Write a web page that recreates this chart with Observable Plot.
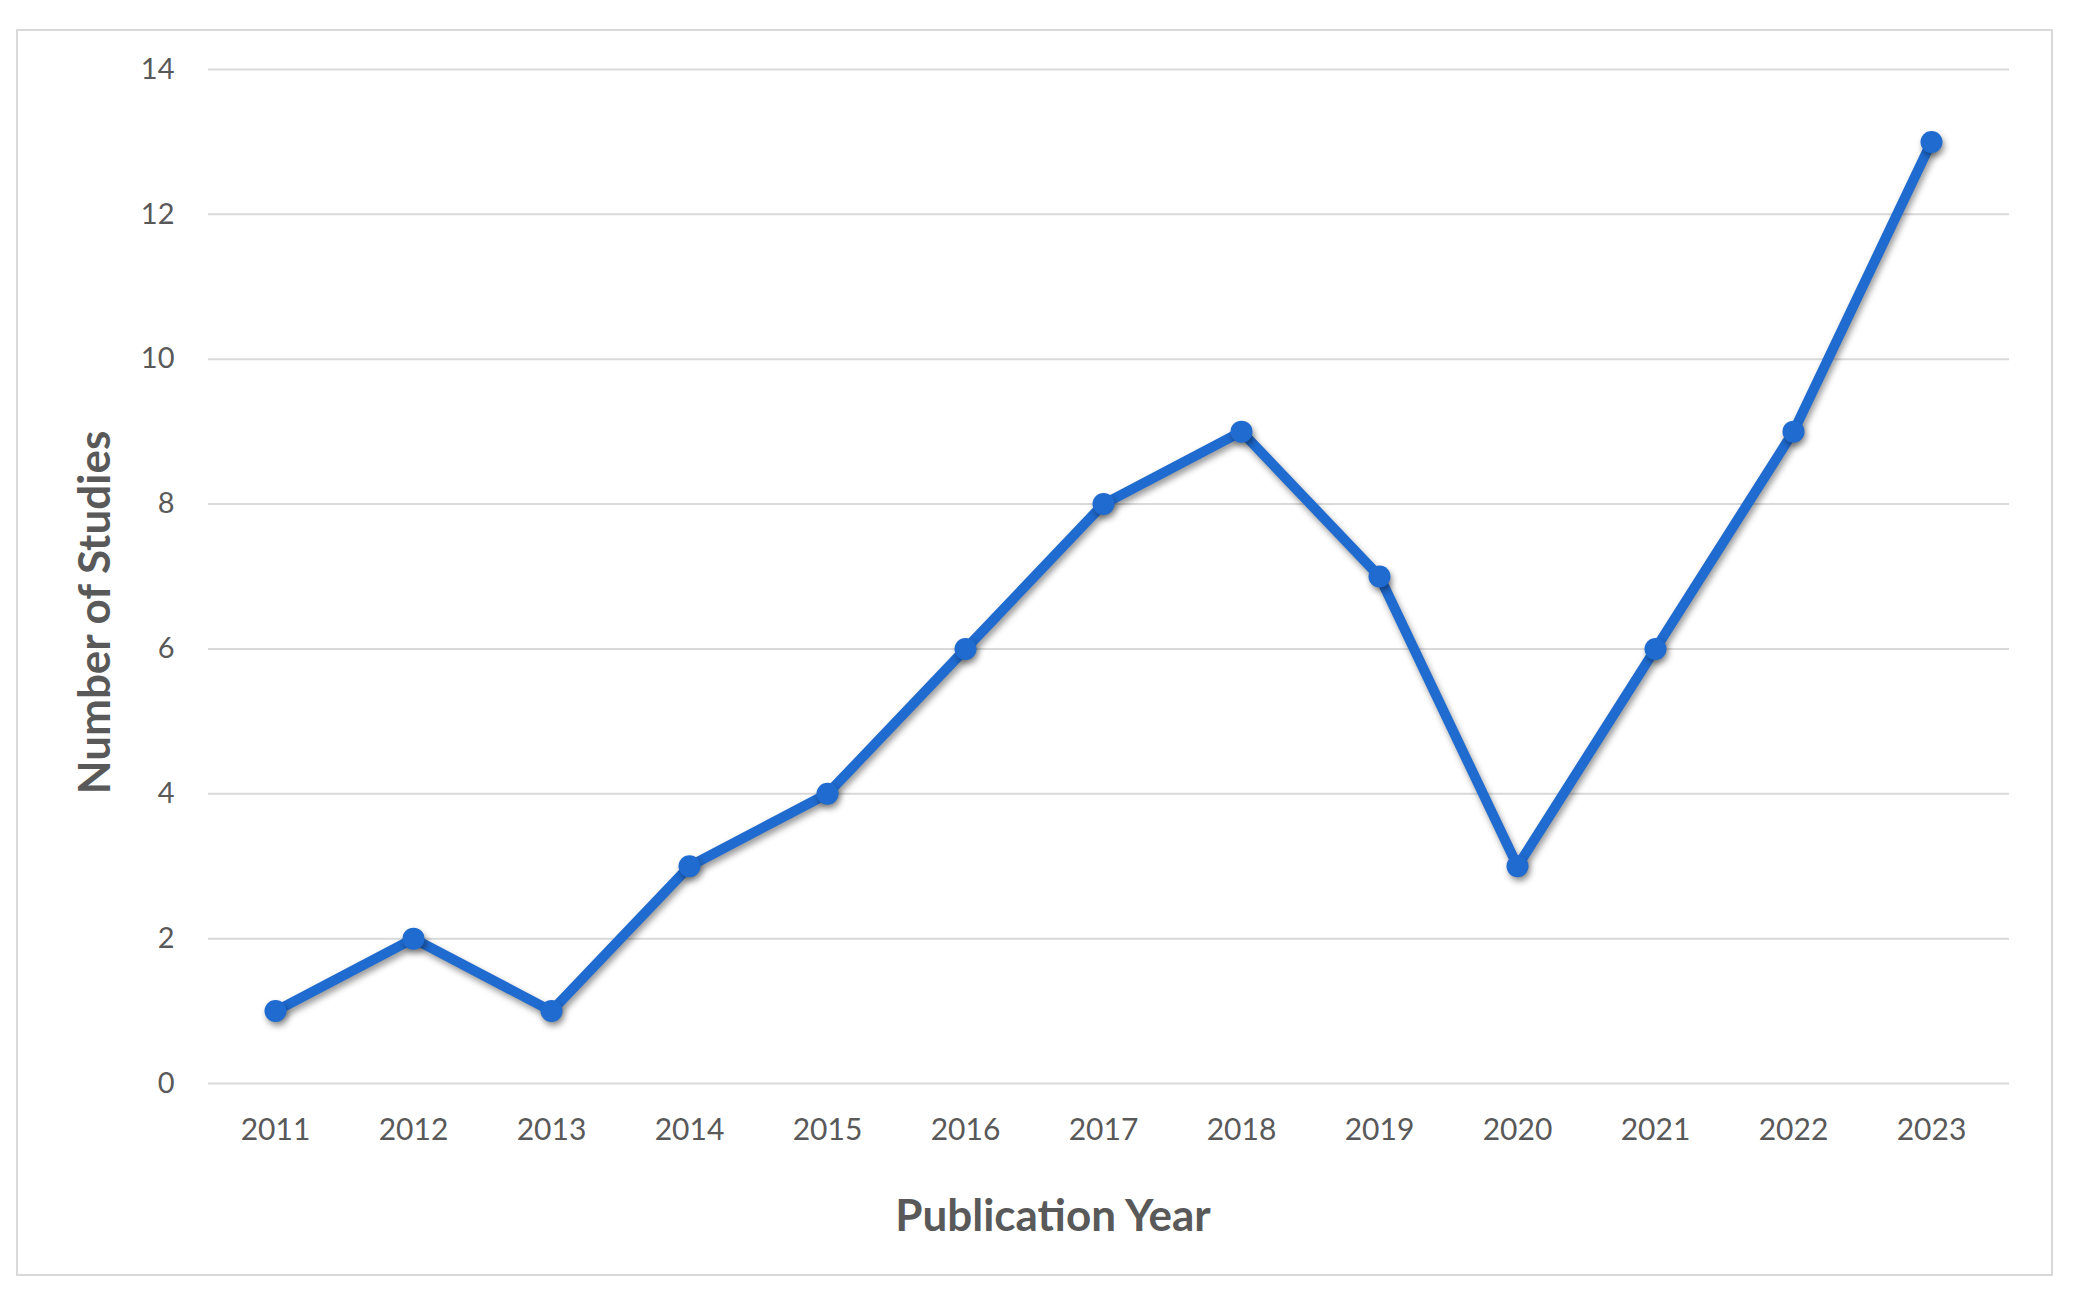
<!DOCTYPE html>
<html>
<head>
<meta charset="utf-8">
<script src="https://cdn.jsdelivr.net/npm/d3@7"></script>
<script src="https://cdn.jsdelivr.net/npm/@observablehq/plot@0.6"></script>
<style>
  html, body { margin: 0; padding: 0; background: #fff; }
  #frame { position: absolute; left: 16px; top: 29px; width: 2037px; height: 1247px; box-sizing: border-box; border: 2px solid #d9d9d9; }
  #chart { position: absolute; left: 0; top: 0; }
  #chart svg g[aria-label="line"] { filter: drop-shadow(2px 4px 3px rgba(0,0,0,0.4)); }
  #chart svg g[aria-label="dot"] { filter: drop-shadow(2px 4px 3px rgba(0,0,0,0.4)); }
</style>
</head>
<body>
<div id="frame"></div>
<div id="chart"></div>
<script>
const years = ["2011","2012","2013","2014","2015","2016","2017","2018","2019","2020","2021","2022","2023"];
const studies = [1, 2, 1, 3, 4, 6, 8, 9, 7, 3, 6, 9, 13];
const yTicks = [0, 2, 4, 6, 8, 10, 12, 14];
const xTitle = "Publication Year";
const yTitle = "Number of Studies";

const data = years.map((y, i) => ({year: y, value: studies[i]}));
const blue = "#1f6bd0";
const grey = "#595959";

const chart = Plot.plot({
  width: 2079,
  height: 1299,
  marginLeft: 208,
  marginRight: 70,
  marginTop: 69,
  marginBottom: 216,
  style: {fontFamily: "Lato, 'Open Sans', sans-serif", background: "transparent"},
  x: {type: "point", domain: years, range: [273, 1933], padding: 0},
  y: {domain: [0, 14]},
  marks: [
    Plot.gridY(yTicks, {stroke: "#d9d9d9", strokeOpacity: 1, strokeWidth: 2}),
    Plot.axisY(yTicks, {tickSize: 0, tickPadding: 34, fontSize: 29, fill: grey, label: null, tickFormat: "d"}),
    Plot.axisX({tickSize: 0, tickPadding: 35, fontSize: 30, fill: grey, label: null}),
    Plot.line(data, {x: "year", y: "value", stroke: blue, strokeWidth: 10, strokeLinejoin: "round", strokeLinecap: "round"}),
    Plot.dot(data, {x: "year", y: "value", r: 11, fill: blue, stroke: "none"}),
    Plot.text([xTitle], {frameAnchor: "bottom", dx: -56, dy: 133, fontSize: 44, fontWeight: "bold", fill: grey, textAnchor: "middle", lineAnchor: "middle"}),
    Plot.text([yTitle], {frameAnchor: "left", dx: -113, dy: 36, rotate: -90, fontSize: 44, fontWeight: "bold", fill: grey, textAnchor: "middle", lineAnchor: "middle"})
  ]
});
document.getElementById("chart").appendChild(chart);
</script>
</body>
</html>
